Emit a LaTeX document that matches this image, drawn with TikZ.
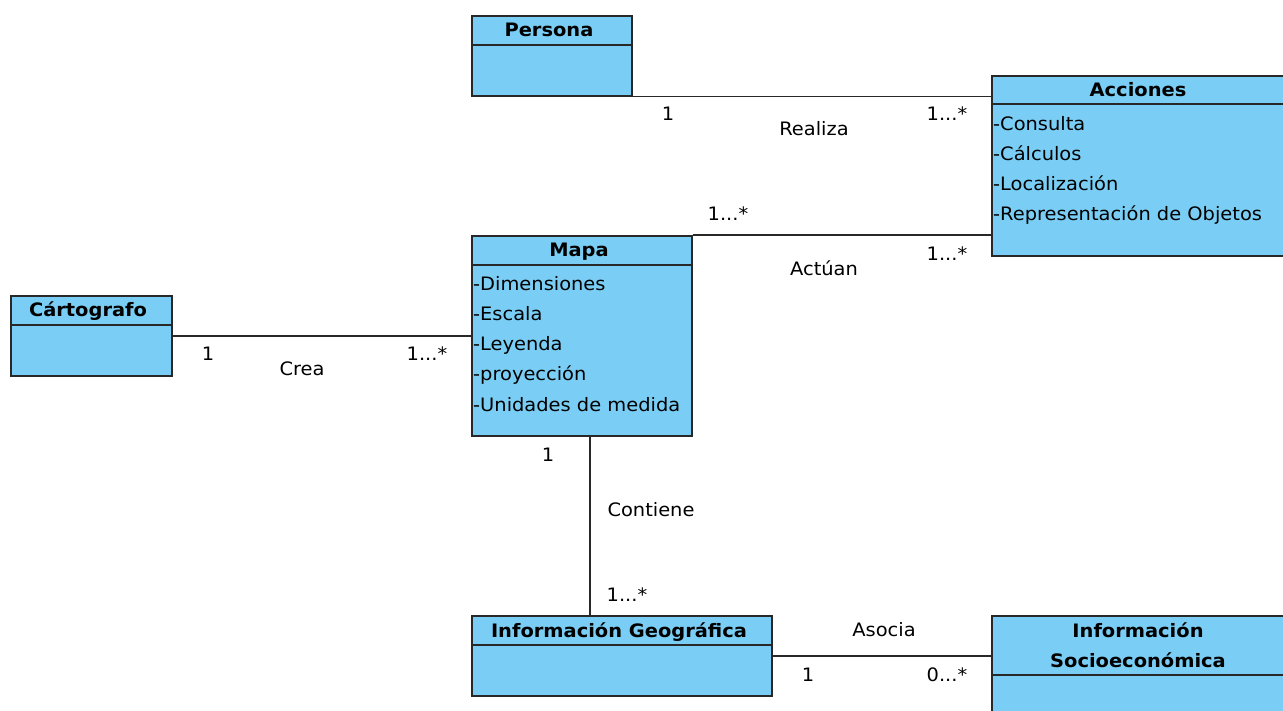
\documentclass[tikz,border=0pt]{standalone}
\usepackage{fontspec}
\setmainfont[FakeStretch=1.05]{DejaVu Sans}
\definecolor{boxfill}{RGB}{122,206,245}
\definecolor{linecol}{RGB}{40,40,40}
\begin{document}
\begin{tikzpicture}[x=1pt,y=-1pt,
  cls/.style={draw=linecol, fill=boxfill, line width=1.6pt, anchor=north west, inner sep=0pt},
  hdr/.style={font=\fontsize{18.5}{20}\selectfont\bfseries, inner sep=0pt, anchor=base},
  attr/.style={font=\fontsize{18.5}{20}\selectfont, inner sep=0pt, anchor=base west},
  lbl/.style={font=\fontsize{18.5}{20}\selectfont, inner sep=0pt, anchor=base},
  conn/.style={draw=linecol, line width=1.6pt}]
\useasboundingbox (0,0) rectangle (1283,711);
\clip (0,0) rectangle (1283,711);
% class boxes
\node[cls, minimum width=160, minimum height=80] (persona) at (471,15) {};
\node[cls, minimum width=294, minimum height=180] (acciones) at (991,75) {};
\node[cls, minimum width=220, minimum height=200] (mapa) at (471,235) {};
\node[cls, minimum width=161, minimum height=80] (cart) at (10,295) {};
\node[cls, minimum width=300, minimum height=80] (geo) at (471,615) {};
\node[cls, minimum width=294, minimum height=110] (socio) at (991,615) {};
% header separators
\draw[conn] (persona.west |- 0,45) -- (persona.east |- 0,45);
\draw[conn] (acciones.west |- 0,104) -- (acciones.east |- 0,104);
\draw[conn] (mapa.west |- 0,265) -- (mapa.east |- 0,265);
\draw[conn] (cart.west |- 0,325) -- (cart.east |- 0,325);
\draw[conn] (geo.west |- 0,645) -- (geo.east |- 0,645);
\draw[conn] (socio.west |- 0,675) -- (socio.east |- 0,675);
% headers
\node[hdr] (hpersona) at (549,37) {Persona};
\node[hdr] (hacciones) at (1138,97) {Acciones};
\node[hdr] (hmapa) at (579,257) {Mapa};
\node[hdr] (hcart) at (88,317) {Cártografo};
\node[hdr] (hgeo) at (619,637) {Información Geográfica};
\node[hdr] (hsocio1) at (1138,637) {Información};
\node[hdr] (hsocio2) at (1138,667) {Socioeconómica};
% attributes
\node[attr] (a1) at (993,131) {-Consulta};
\node[attr] (a2) at (993,161) {-Cálculos};
\node[attr] (a3) at (993,191) {-Localización};
\node[attr] (a4) at (993,221) {-Representación de Objetos};
\node[attr] (m1) at (473,291) {-Dimensiones};
\node[attr] (m2) at (473,321) {-Escala};
\node[attr] (m3) at (473,351) {-Leyenda};
\node[attr] (m4) at (473,381) {-proyección};
\node[attr] (m5) at (473,411) {-Unidades de medida};
% connectors
\draw[conn] (persona.south east) -- (persona.south east -| acciones.west);
\draw[conn] (mapa.north east) -- (mapa.north east -| acciones.west);
\draw[conn] (cart.east) -- (cart.east -| mapa.west);
\coordinate (mc) at (590,435);
\draw[conn] (mc) -- (mc |- geo.north);
\draw[conn] (geo.east) -- (geo.east -| socio.west);
% labels
\node[lbl] (l1) at (668,121) {1};
\node[lbl] (l2) at (814,136) {Realiza};
\node[lbl] (l3) at (947,121) {1...*};
\node[lbl] (l4) at (728,221) {1...*};
\node[lbl] (l5) at (824,276) {Actúan};
\node[lbl] (l6) at (947,261) {1...*};
\node[lbl] (l7) at (208,361) {1};
\node[lbl] (l8) at (302,376) {Crea};
\node[lbl] (l9) at (427,361) {1...*};
\node[lbl] (l10) at (548,461) {1};
\node[lbl] (l11) at (651,516) {Contiene};
\node[lbl] (l12) at (627,601) {1...*};
\node[lbl] (l13) at (884,636) {Asocia};
\node[lbl] (l14) at (808,681) {1};
\node[lbl] (l15) at (947,681) {0...*};
\end{tikzpicture}
\end{document}
